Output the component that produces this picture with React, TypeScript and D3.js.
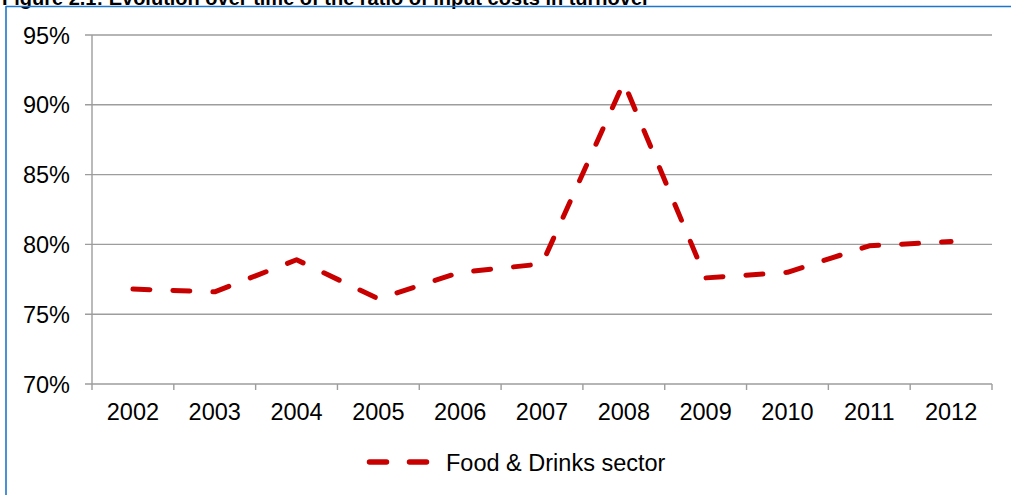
import * as d3 from "d3";
import { useEffect } from "react";

const years = ["2002", "2003", "2004", "2005", "2006", "2007", "2008", "2009", "2010", "2011", "2012"];
const foodDrinks = [76.8, 76.6, 78.9, 76.1, 78.0, 78.6, 91.6, 77.6, 78.0, 79.9, 80.2];
const yTicks = [70, 75, 80, 85, 90, 95];
const seriesName = "Food & Drinks sector";
const title = "Figure 2.1: Evolution over time of the ratio of input costs in turnover";

const W = 1011;
const H = 495;
const font = "'Liberation Sans', Arial, sans-serif";
const red = "#c80000";
const grid = "#9d9d9d";

export default function App() {
  useEffect(() => {
    document.body.style.margin = "0";
  }, []);

  const x = d3.scaleBand<string>().domain(years).range([92, 992]).padding(0);
  const y = d3.scaleLinear().domain([70, 95]).range([384, 35]);

  const line = d3
    .line<number>()
    .x((_, i) => (x(years[i]) ?? 0) + x.bandwidth() / 2)
    .y(d => y(d));

  const boundaries = [...years.map(c => x(c) ?? 0), x.range()[1]];

  return (
    <svg width={W} height={H} style={{ display: "block", background: "#fff" }}>
      {/* title, cut off by the top edge as in the source */}
      <text x={2} y={4.5} fontFamily={font} fontSize={20} fontWeight="bold" fill="#000">
        {title}
      </text>
      {/* frame */}
      <line x1={6} x2={W} y1={6.5} y2={6.5} stroke="#1b76cc" strokeWidth={1.6} />
      <line x1={6} x2={6} y1={6} y2={H} stroke="#1b76cc" strokeWidth={1.6} />

      {/* gridlines + y ticks */}
      {yTicks.map(t => (
        <g key={t}>
          <line x1={85} x2={992} y1={y(t)} y2={y(t)} stroke={grid} strokeWidth={1.4} />
          <text
            x={70}
            y={y(t) + 8.5}
            textAnchor="end"
            fontFamily={font}
            fontSize={23.5}
            fill="#000"
          >
            {t}%
          </text>
        </g>
      ))}

      {/* y axis */}
      <line x1={92} x2={92} y1={y(95)} y2={y(70)} stroke={grid} strokeWidth={1.4} />
      {/* x ticks */}
      {boundaries.map((b, i) => (
        <line key={i} x1={b} x2={b} y1={y(70)} y2={y(70) + 6} stroke={grid} strokeWidth={1.4} />
      ))}
      {years.map(c => (
        <text
          key={c}
          x={(x(c) ?? 0) + x.bandwidth() / 2}
          y={420}
          textAnchor="middle"
          fontFamily={font}
          fontSize={23.5}
          fill="#000"
        >
          {c}
        </text>
      ))}

      {/* series */}
      <path
        d={line(foodDrinks) ?? ""}
        fill="none"
        stroke={red}
        strokeWidth={5}
        strokeDasharray="17,23"
        strokeLinecap="round"
        strokeLinejoin="round"
      />

      {/* legend */}
      <line
        x1={369.5}
        x2={427.5}
        y1={462}
        y2={462}
        stroke={red}
        strokeWidth={5.5}
        strokeDasharray="17,23"
        strokeLinecap="round"
      />
      <text x={446} y={471} fontFamily={font} fontSize={23.5} fill="#000">
        {seriesName}
      </text>
    </svg>
  );
}
